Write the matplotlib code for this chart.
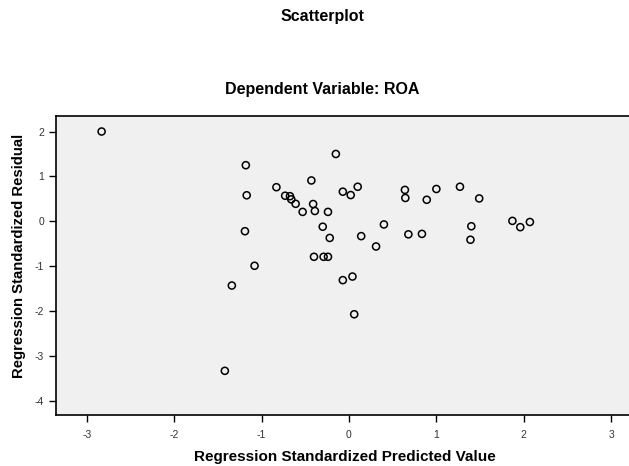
import matplotlib
matplotlib.use('Agg')
import matplotlib.pyplot as plt

# standardized predicted value (x) and standardized residual (y)
pred = [-2.83, -1.18, -1.17, -1.19, -1.08, -1.34, -1.42, -0.83, -0.73, -0.675,
        -0.66, -0.61, -0.53, -0.43, -0.41, -0.39, -0.40, -0.30, -0.29, -0.24,
        -0.24, -0.22, -0.15, -0.07, 0.02, 0.10, 0.14, -0.07, 0.04, 0.06,
        0.31, 0.40, 0.64, 0.645, 0.68, 0.835, 0.89, 1.00, 1.27, 1.40,
        1.39, 1.49, 1.87, 1.96, 2.07]
resid = [2.00, 1.25, 0.58, -0.22, -0.99, -1.43, -3.33, 0.76, 0.57, 0.56,
         0.49, 0.39, 0.21, 0.91, 0.385, 0.23, -0.79, -0.12, -0.79, -0.79,
         0.21, -0.37, 1.50, 0.66, 0.585, 0.77, -0.33, -1.31, -1.23, -2.07,
         -0.56, -0.07, 0.70, 0.52, -0.29, -0.28, 0.48, 0.72, 0.77, -0.11,
         -0.41, 0.51, 0.01, -0.13, -0.015]

xticks = [-3, -2, -1, 0, 1, 2, 3]
yticks = [2, 1, 0, -1, -2, -3, -4]

plt.rcParams['font.family'] = ['Liberation Sans', 'DejaVu Sans']
plt.rcParams['axes.unicode_minus'] = False

fig = plt.figure(figsize=(6.29, 4.66), dpi=100)
ax = fig.add_axes([0.089, 0.1094, 0.911, 0.6416])
ax.set_facecolor('#f0f0f0')

ax.scatter(pred, resid, s=26, facecolors='none', edgecolors='black', linewidths=1.1, zorder=3)

ax.set_xlim(-3.352, 3.204)
ax.set_ylim(-4.314, 2.345)
ax.set_xticks(xticks)
ax.set_yticks(yticks)
ax.tick_params(direction='out', length=5, width=1, labelsize=7.5, colors='black',
               labelcolor='#333333')
ax.tick_params(axis='x', pad=6)
ax.tick_params(axis='y', pad=3.5)

ax.spines['right'].set_visible(False)
for side in ['left', 'top', 'bottom']:
    ax.spines[side].set_linewidth(1.2)

ax.set_xlabel('Regression Standardized Predicted Value', fontsize=11, fontweight='bold', va='center')
ax.set_ylabel('Regression Standardized Residual', fontsize=10.7, fontweight='bold', va='center')
ax.xaxis.set_label_coords(0.504, -0.14)
ax.yaxis.set_label_coords(-0.064, 0.532)

fig.text(0.512, 0.964, 'Scatterplot', ha='center', va='center', fontsize=11.5, fontweight='bold')
fig.text(0.512, 0.807, 'Dependent Variable: ROA', ha='center', va='center', fontsize=11.5, fontweight='bold')

fig.savefig('out.png', dpi=100)
